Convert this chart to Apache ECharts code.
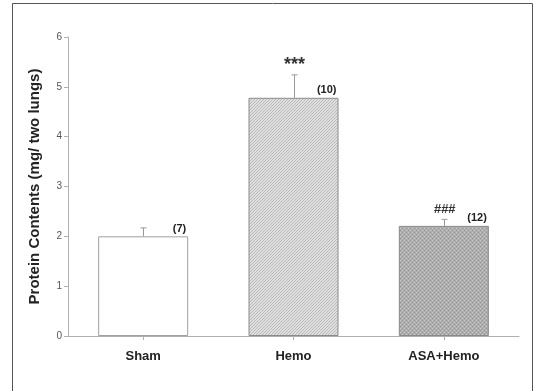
<!DOCTYPE html>
<html><head><meta charset="utf-8">
<script src="https://cdn.jsdelivr.net/npm/echarts@6/dist/echarts.min.js"></script>
<style>html,body{margin:0;padding:0;background:#fff}#c{width:537px;height:391px}</style>
</head><body><div id="c"></div>
<script>
var categories = ['Sham', 'Hemo', 'ASA+Hemo'];
var means = [2.0, 4.78, 2.21];
var errors = [0.17, 0.46, 0.13];
var nLabels = ['(7)', '(10)', '(12)'];
var sigLabels = ['', '***', '###'];
var yTicks = [0, 1, 2, 3, 4, 5, 6];

function hatch() {
  var c = document.createElement('canvas'); c.width = 3; c.height = 3;
  var g = c.getContext('2d');
  g.fillStyle = '#e0e0e0'; g.fillRect(0, 0, 3, 3);
  g.fillStyle = '#b8b8b8';
  g.fillRect(2, 0, 1, 1); g.fillRect(1, 1, 1, 1); g.fillRect(0, 2, 1, 1);
  return c;
}
function dots() {
  var c = document.createElement('canvas'); c.width = 4; c.height = 4;
  var g = c.getContext('2d');
  g.fillStyle = '#adadad'; g.fillRect(0, 0, 4, 4);
  g.fillStyle = '#cdcdcd'; g.fillRect(0, 0, 1, 1); g.fillRect(2, 2, 1, 1);
  g.fillStyle = '#9a9a9a'; g.fillRect(2, 0, 1, 1); g.fillRect(0, 2, 1, 1);
  return c;
}
var fills = ['#ffffff', {image: hatch(), repeat: 'repeat'}, {image: dots(), repeat: 'repeat'}];
var borders = ['#a0a0a0', '#8a8a8a', '#8a8a8a'];

var chart = echarts.init(document.getElementById('c'), null, {renderer: 'canvas'});
chart.setOption({
  animation: false,
  graphic: [{type: 'rect', shape: {x: 12.5, y: 3.5, width: 520, height: 400}, style: {fill: 'none', stroke: '#555', lineWidth: 1}}],
  grid: {left: 68, right: 18, top: 37, bottom: 55},
  xAxis: {
    type: 'category', data: categories,
    axisLine: {lineStyle: {color: '#b0b0b0'}},
    axisTick: {show: true, alignWithLabel: true, length: 4, lineStyle: {color: '#b0b0b0'}},
    axisLabel: {color: '#222', fontFamily: 'Liberation Sans, Arial', fontWeight: 'bold', fontSize: 13, margin: 14}
  },
  yAxis: {
    type: 'value', min: yTicks[0], max: yTicks[yTicks.length - 1], interval: 1,
    name: 'Protein Contents (mg/ two lungs)', nameLocation: 'middle', nameGap: 26, nameRotate: 90,
    nameTextStyle: {color: '#222', fontFamily: 'Liberation Sans, Arial', fontWeight: 'bold', fontSize: 15},
    splitLine: {show: false},
    axisLine: {show: true, lineStyle: {color: '#b0b0b0'}},
    axisTick: {show: true, length: 4, lineStyle: {color: '#b0b0b0'}},
    axisLabel: {color: '#555', fontFamily: 'Liberation Sans, Arial', fontSize: 10, margin: 6}
  },
  series: [{
    type: 'bar', barWidth: 90,
    data: means.map(function (v, i) {
      return {value: v, itemStyle: {color: fills[i], borderColor: borders[i], borderWidth: 1}};
    }),
    z: 2
  }, {
    type: 'custom', z: 3,
    data: means.map(function (v, i) { return [i, v, errors[i]]; }),
    renderItem: function (params, api) {
      var i = api.value(0);
      var top = api.coord([i, api.value(1) + api.value(2)]);
      var base = api.coord([i, api.value(1)]);
      var x = Math.round(base[0]) + 0.5;
      var kids = [
        {type: 'line', shape: {x1: x, y1: base[1], x2: x, y2: top[1]}, style: {stroke: '#999', lineWidth: 1}},
        {type: 'line', shape: {x1: x - 3, y1: top[1], x2: x + 3, y2: top[1]}, style: {stroke: '#999', lineWidth: 1}},
        {type: 'text', x: base[0] + 43, y: base[1] - 2, style: {text: nLabels[i], textAlign: 'right', textVerticalAlign: 'bottom', font: 'bold 11px Liberation Sans, Arial', fill: '#222'}}
      ];
      if (sigLabels[i]) {
        var big = sigLabels[i] === '***';
        kids.push({type: 'text', x: x, y: top[1] - (big ? 1 : 3), style: {text: sigLabels[i], textAlign: 'center', textVerticalAlign: 'bottom', font: (big ? 'bold 18px' : 'bold italic 13px') + ' Liberation Sans, Arial', fill: '#333'}});
      }
      return {type: 'group', children: kids};
    }
  }]
});
</script></body></html>
